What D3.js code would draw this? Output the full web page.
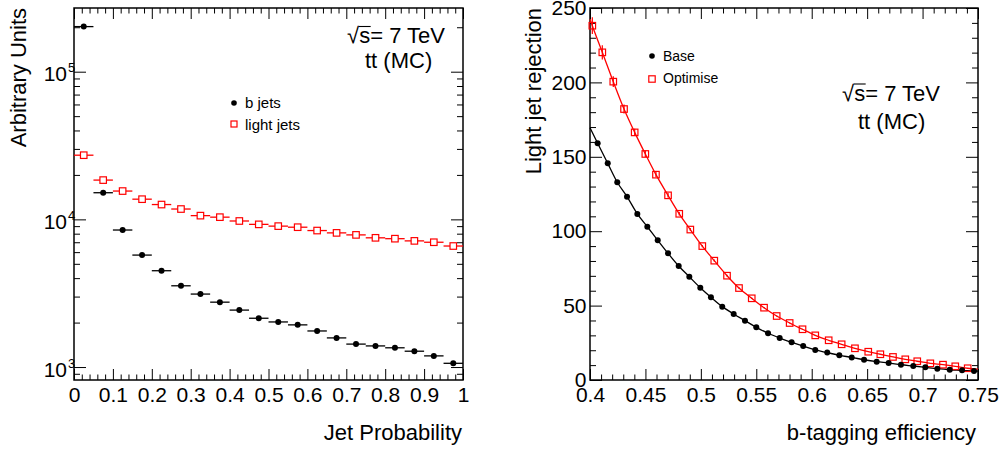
<!DOCTYPE html>
<html><head><meta charset="utf-8">
<script src="https://cdn.jsdelivr.net/npm/d3@7"></script>
<style>
html,body{margin:0;padding:0;background:#fff;}
svg{display:block;font-family:"Liberation Sans",Arial,Helvetica,sans-serif;}
</style></head><body>
<svg id="c" width="1003" height="451"></svg>
<script>
// ---------- Left panel data (Jet Probability histograms) ----------
const jpBinCenters = [0.025,0.075,0.125,0.175,0.225,0.275,0.325,0.375,0.425,0.475,
                      0.525,0.575,0.625,0.675,0.725,0.775,0.825,0.875,0.925,0.975];
const jpBinHalfWidth = 0.025;
const bJets = [202000,15150,8470,5730,4490,3550,3120,2750,2430,2140,
               2020,1930,1755,1575,1430,1390,1350,1280,1190,1060];
const lightJets = [27200,18450,15550,13700,12600,11750,10600,10350,9750,9250,
                   9000,8850,8400,8100,7850,7500,7400,7150,7000,6600];
const jpTicks = [0,0.1,0.2,0.3,0.4,0.5,0.6,0.7,0.8,0.9,1];
const jpTickLabels = ["0","0.1","0.2","0.3","0.4","0.5","0.6","0.7","0.8","0.9","1"];
const logTickValues = [1e3,1e4,1e5];
const logTickExps = ["3","4","5"];
const leftLegend = ["b jets","light jets"];

// ---------- Right panel data (rejection vs efficiency) ----------
const baseEff = [0.4069,0.4160,0.4246,0.4334,0.4427,0.4517,0.4611,0.4704,0.4800,0.4896,
                 0.4995,0.5091,0.5193,0.5296,0.5398,0.5500,0.5606,0.5711,0.5819,0.5923,
                 0.6032,0.6140,0.6249,0.6361,0.6472,0.6586,0.6694,0.6805,0.6916,0.7025,
                 0.7133,0.7245,0.7356,0.7464];
const baseRej = [159.1,145.6,132.9,123.2,111.6,103.0,93.9,85.1,76.6,69.4,
                 62.0,55.6,49.3,44.4,39.9,35.4,31.4,28.2,25.3,22.8,
                 20.2,18.4,16.6,15.2,13.6,12.3,11.4,10.3,9.4,8.5,
                 7.6,6.9,6.5,6.0];
const optEff = [0.4021,0.4111,0.4210,0.4307,0.4403,0.4499,0.4595,0.4704,0.4805,0.4905,
                0.5013,0.5121,0.5236,0.5344,0.5459,0.5570,0.5684,0.5801,0.5917,0.6032,
                0.6153,0.6270,0.6390,0.6510,0.6619,0.6733,0.6844,0.6952,0.7070,0.7184,
                0.7295,0.7407];
const optRej = [238.1,220.2,200.5,182.1,166.4,151.9,138.0,124.1,111.7,101.1,
                90.0,80.2,70.1,61.8,54.9,48.6,43.0,38.3,34.1,30.0,
                26.7,24.0,21.3,19.0,17.3,15.5,13.9,12.6,11.2,10.3,
                9.2,7.9];
const optErr = [5.6,4.8,3.6,3.0,2.5,2.1,1.8,1.5,1.2,1.0,
                0.8,0.7,0.6,0.5,0.4,0.4,0.3,0.3,0.3,0.2,
                0.2,0.2,0.2,0.1,0.1,0.1,0.1,0.1,0.1,0.1,
                0.1,0.1];
const baseCurveStart = [0.4,169.5], baseCurveEnd = [0.75,5.9];
const optCurveStart = [0.4,242.5], optCurveEnd = [0.75,7.3];
const effTicks = [0.4,0.45,0.5,0.55,0.6,0.65,0.7,0.75];
const effTickLabels = ["0.4","0.45","0.5","0.55","0.6","0.65","0.7","0.75"];
const rejTicks = [0,50,100,150,200,250];
const rejTickLabels = ["0","50","100","150","200","250"];
const rightLegend = ["Base","Optimise"];

const RED = "#ff0000";
const svg = d3.select("#c");
const FS = 21;

// ================= LEFT PANEL =================
const L = {x0:74, x1:463, y0:8, y1:380};
const xL = d3.scaleLinear().domain([0,1]).range([L.x0, L.x1]);
const yL = d3.scaleLog().domain([817, 2.7e5]).range([L.y1, L.y0]);
const gL = svg.append("g");

function styleAxis(g){
  g.select(".domain").remove();
  g.selectAll(".tick line").attr("stroke","#000").attr("stroke-width",1);
  g.selectAll(".tick text").attr("fill","#000").attr("font-size",FS)
   .attr("font-family",'"Liberation Sans",Arial,sans-serif');
  return g;
}
const jpMinor = d3.range(0,1.0001,0.02).filter(v=>Math.abs(v*10-Math.round(v*10))>1e-6);
// bottom
styleAxis(gL.append("g").attr("transform",`translate(0,${L.y1})`)
  .call(d3.axisBottom(xL).tickValues(jpTicks).tickSize(-11).tickPadding(7)
        .tickFormat((d,i)=>jpTickLabels[i])));
styleAxis(gL.append("g").attr("transform",`translate(0,${L.y1})`)
  .call(d3.axisBottom(xL).tickValues(jpMinor).tickSize(-5.5).tickFormat("")));
// top
styleAxis(gL.append("g").attr("transform",`translate(0,${L.y0})`)
  .call(d3.axisTop(xL).tickValues(jpTicks).tickSize(-11).tickFormat("")));
styleAxis(gL.append("g").attr("transform",`translate(0,${L.y0})`)
  .call(d3.axisTop(xL).tickValues(jpMinor).tickSize(-5.5).tickFormat("")));
// log minor ticks
const logMinor = [];
[100,1000,10000,100000].forEach(dec=>{for(let k=2;k<=9;k++){const v=k*dec; if(v>=817&&v<=2.7e5) logMinor.push(v);}});
[[L.x0,d3.axisLeft],[L.x1,d3.axisRight]].forEach(([x,ax])=>{
  styleAxis(gL.append("g").attr("transform",`translate(${x},0)`)
    .call(ax(yL).tickValues(logTickValues).tickSize(-12).tickFormat("")));
  styleAxis(gL.append("g").attr("transform",`translate(${x},0)`)
    .call(ax(yL).tickValues(logMinor).tickSize(-6).tickFormat("")));
});
// log labels 10^n
logTickValues.forEach((v,i)=>{
  const y = yL(v);
  gL.append("text").attr("x",67).attr("y",y+9.5).attr("text-anchor","end")
    .attr("font-size",FS).text("10");
  gL.append("text").attr("x",68).attr("y",y+0.5).attr("text-anchor","start")
    .attr("font-size",13).text(logTickExps[i]);
});
// frame
gL.append("rect").attr("x",L.x0).attr("y",L.y0).attr("width",L.x1-L.x0).attr("height",L.y1-L.y0)
  .attr("fill","none").attr("stroke","#000").attr("stroke-width",1.5);

// light jets (red squares) with error bars
const SQ = 6.5;
jpBinCenters.forEach((c,i)=>{
  const cx=xL(c), cy=yL(lightJets[i]);
  gL.append("line").attr("x1",xL(c-jpBinHalfWidth)).attr("x2",cx-SQ/2).attr("y1",cy).attr("y2",cy)
    .attr("stroke",RED).attr("stroke-width",1.3);
  gL.append("line").attr("x1",cx+SQ/2).attr("x2",xL(c+jpBinHalfWidth)).attr("y1",cy).attr("y2",cy)
    .attr("stroke",RED).attr("stroke-width",1.3);
  gL.append("rect").attr("x",cx-SQ/2).attr("y",cy-SQ/2).attr("width",SQ).attr("height",SQ)
    .attr("fill","none").attr("stroke",RED).attr("stroke-width",1.2);
});
// b jets (black circles)
jpBinCenters.forEach((c,i)=>{
  const cx=xL(c), cy=yL(bJets[i]);
  gL.append("line").attr("x1",xL(c-jpBinHalfWidth)).attr("x2",xL(c+jpBinHalfWidth)).attr("y1",cy).attr("y2",cy)
    .attr("stroke","#000").attr("stroke-width",1.3);
  gL.append("circle").attr("cx",cx).attr("cy",cy).attr("r",3).attr("fill","#000");
});
// legend
gL.append("circle").attr("cx",234).attr("cy",103).attr("r",2.8).attr("fill","#000");
gL.append("text").attr("x",245).attr("y",107.5).attr("font-size",15).text(leftLegend[0]);
gL.append("rect").attr("x",234-3).attr("y",124-3).attr("width",6).attr("height",6)
  .attr("fill","none").attr("stroke",RED).attr("stroke-width",1.2);
gL.append("text").attr("x",245).attr("y",129.5).attr("font-size",15).text(leftLegend[1]);
// titles
gL.append("text").attr("x",462).attr("y",440).attr("text-anchor","end").attr("font-size",22).text("Jet Probability");
gL.append("text").attr("transform","translate(26,8) rotate(-90)").attr("text-anchor","end")
  .attr("font-size",22).text("Arbitrary Units");

function sqrtLabel(g, xEnd, y, x2, y2){
  const t = g.append("text").attr("x",xEnd).attr("y",y).attr("text-anchor","end")
    .attr("font-size",22).text("\u221As= 7 TeV");
  const n = t.node();
  const s0 = n.getStartPositionOfChar(1).x, s1 = n.getEndPositionOfChar(1).x;
  const r0 = n.getStartPositionOfChar(0).x;
  g.append("line").attr("x1",s0-0.5).attr("x2",s1+0.5).attr("y1",y-16.5).attr("y2",y-16.5)
    .attr("stroke","#000").attr("stroke-width",1.1);
  g.append("text").attr("x",x2).attr("y",y2).attr("font-size",22).text("tt (MC)");
}
sqrtLabel(gL, 445, 43, 365, 68);

// ================= RIGHT PANEL =================
const R = {x0:590, x1:978, y0:8, y1:380};
const xR = d3.scaleLinear().domain([0.4,0.75]).range([R.x0,R.x1]);
const yR = d3.scaleLinear().domain([0,250]).range([R.y1,R.y0]);
const gR = svg.append("g");
const effMinor = d3.range(0,36).map(k=>0.4+k*0.01).filter((v,k)=>k%5!==0);
const rejMinor = d3.range(0,26).map(k=>k*10).filter((v,k)=>k%5!==0);
styleAxis(gR.append("g").attr("transform",`translate(0,${R.y1})`)
  .call(d3.axisBottom(xR).tickValues(effTicks).tickSize(-11).tickPadding(7)
        .tickFormat((d,i)=>effTickLabels[i])));
styleAxis(gR.append("g").attr("transform",`translate(0,${R.y1})`)
  .call(d3.axisBottom(xR).tickValues(effMinor).tickSize(-5.5).tickFormat("")));
styleAxis(gR.append("g").attr("transform",`translate(0,${R.y0})`)
  .call(d3.axisTop(xR).tickValues(effTicks).tickSize(-11).tickFormat("")));
styleAxis(gR.append("g").attr("transform",`translate(0,${R.y0})`)
  .call(d3.axisTop(xR).tickValues(effMinor).tickSize(-5.5).tickFormat("")));
styleAxis(gR.append("g").attr("transform",`translate(${R.x0},0)`)
  .call(d3.axisLeft(yR).tickValues(rejTicks).tickSize(-12).tickPadding(3.5)
        .tickFormat((d,i)=>rejTickLabels[i])));
styleAxis(gR.append("g").attr("transform",`translate(${R.x0},0)`)
  .call(d3.axisLeft(yR).tickValues(rejMinor).tickSize(-6).tickFormat("")));
styleAxis(gR.append("g").attr("transform",`translate(${R.x1},0)`)
  .call(d3.axisRight(yR).tickValues(rejTicks).tickSize(-12).tickFormat("")));
styleAxis(gR.append("g").attr("transform",`translate(${R.x1},0)`)
  .call(d3.axisRight(yR).tickValues(rejMinor).tickSize(-6).tickFormat("")));
gR.append("rect").attr("x",R.x0).attr("y",R.y0).attr("width",R.x1-R.x0).attr("height",R.y1-R.y0)
  .attr("fill","none").attr("stroke","#000").attr("stroke-width",1.5);

const lineGen = d3.line().x(d=>xR(d[0])).y(d=>yR(d[1])).curve(d3.curveMonotoneX);
const basePts = [baseCurveStart, ...baseEff.map((e,i)=>[e,baseRej[i]]), baseCurveEnd];
const optPts = [optCurveStart, ...optEff.map((e,i)=>[e,optRej[i]]), optCurveEnd];
gR.append("path").attr("d",lineGen(basePts)).attr("fill","none").attr("stroke","#000").attr("stroke-width",1.3);
gR.append("path").attr("d",lineGen(optPts)).attr("fill","none").attr("stroke",RED).attr("stroke-width",1.3);
// opt error bars + squares
optEff.forEach((e,i)=>{
  const cx=xR(e), cy=yR(optRej[i]);
  if (optErr[i]>0) gR.append("line").attr("x1",cx).attr("x2",cx)
    .attr("y1",yR(optRej[i]-optErr[i])).attr("y2",yR(optRej[i]+optErr[i]))
    .attr("stroke",RED).attr("stroke-width",1.2);
  gR.append("rect").attr("x",cx-SQ/2).attr("y",cy-SQ/2).attr("width",SQ).attr("height",SQ)
    .attr("fill","none").attr("stroke",RED).attr("stroke-width",1.2);
});
baseEff.forEach((e,i)=>{
  gR.append("circle").attr("cx",xR(e)).attr("cy",yR(baseRej[i])).attr("r",3).attr("fill","#000");
});
// legend
gR.append("circle").attr("cx",652).attr("cy",56).attr("r",2.8).attr("fill","#000");
gR.append("text").attr("x",663).attr("y",61).attr("font-size",14).text(rightLegend[0]);
gR.append("rect").attr("x",652-3.2).attr("y",79-3.2).attr("width",6.4).attr("height",6.4)
  .attr("fill","none").attr("stroke",RED).attr("stroke-width",1.2);
gR.append("text").attr("x",663).attr("y",83).attr("font-size",14).text(rightLegend[1]);
// titles
gR.append("text").attr("x",976).attr("y",440).attr("text-anchor","end").attr("font-size",22).text("b-tagging efficiency");
gR.append("text").attr("transform","translate(541,8) rotate(-90)").attr("text-anchor","end")
  .attr("font-size",22).text("Light jet rejection");
sqrtLabel(gR, 940, 100.5, 858, 128.5);
</script>
</body></html>
